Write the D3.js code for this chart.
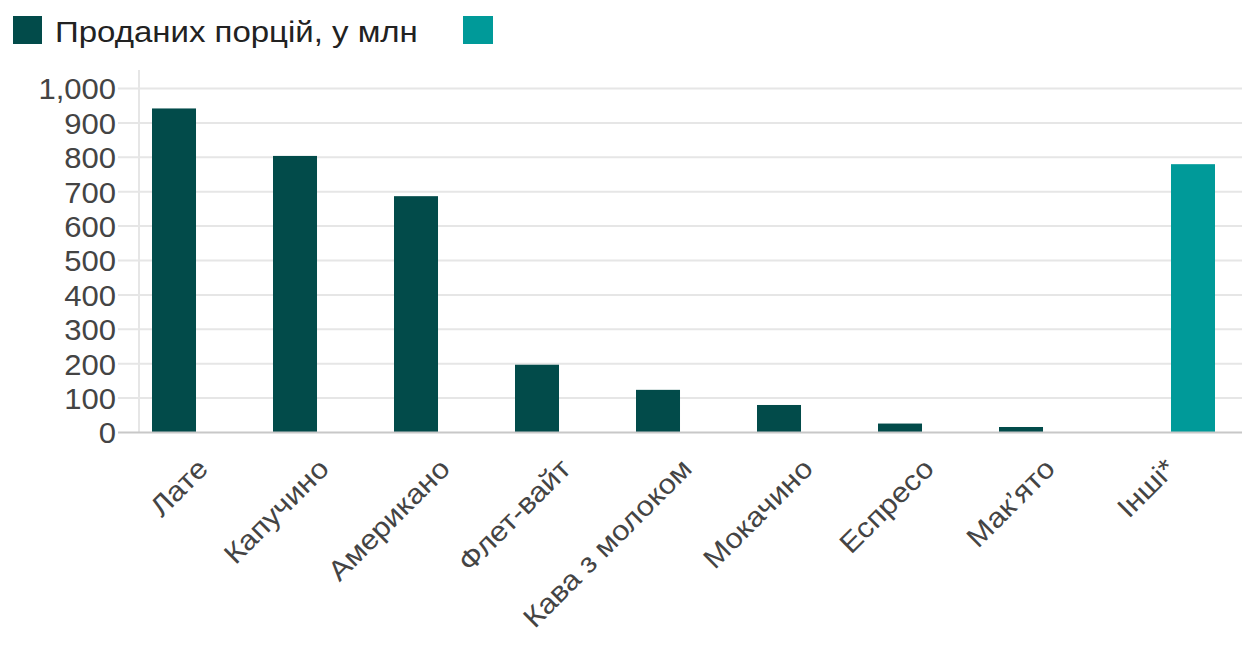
<!DOCTYPE html>
<html><head><meta charset="utf-8">
<script src="https://cdn.jsdelivr.net/npm/d3@7"></script>
<style>body{margin:0;background:#fff}svg{display:block}</style>
</head><body>
<svg id="c" width="1242" height="650"></svg>
<script>
const categories = ["Лате","Капучино","Американо","Флет-вайт","Кава з молоком","Мокачино","Еспресо","Мак\u2019ято","Інші*"];
const seriesNames = ["Проданих порцій, у млн", ""];
const soldValues = [942, 804, 687, 197, 124, 80, 26, 16, 0];
const otherValues = [0, 0, 0, 0, 0, 0, 0, 0, 780];
const yTicks = [0,100,200,300,400,500,600,700,800,900,1000];
const colors = ["#024b4a", "#009a99"];

const svg = d3.select("#c");
const font = "'Liberation Sans', Arial, sans-serif";
const plotLeft = 139, plotRight = 1228, plotTop = 88.5, plotBottom = 432.5;

const x0 = d3.scaleBand().domain(categories).range([plotLeft, plotRight]).padding(0);
const x1 = d3.scaleBand().domain([0,1]).range([0, x0.bandwidth()]).paddingInner(0.137).paddingOuter(0.255);
const y = d3.scaleLinear().domain([0,1000]).range([plotBottom, plotTop]);

// gridlines
svg.append("g").selectAll("line").data(yTicks.filter(d=>d>0)).join("line")
  .attr("x1", 118).attr("x2", 1242)
  .attr("y1", d=>y(d)).attr("y2", d=>y(d))
  .attr("stroke", "#e6e6e6").attr("stroke-width", 2);
// vertical axis line
svg.append("line").attr("x1", plotLeft).attr("x2", plotLeft).attr("y1", 70).attr("y2", plotBottom)
  .attr("stroke", "#e6e6e6").attr("stroke-width", 2);

// y labels
const yAxis = d3.axisLeft(y).tickValues(yTicks).tickFormat(d3.format(",")).tickSize(0).tickPadding(0);
const ya = svg.append("g").attr("transform", "translate(116,0)").call(yAxis);
ya.select(".domain").remove();
ya.selectAll("text").attr("font-family", font).attr("font-size", 29).attr("fill", "#444")
  .attr("dy", "0.36em").attr("transform", "scale(1.07,1)");

// bars
const data = categories.map((c,i)=>({c, v:[soldValues[i], otherValues[i]]}));
const g = svg.append("g");
data.forEach(d=>{
  d.v.forEach((v,k)=>{
    if (v <= 0) return;
    g.append("rect")
      .attr("x", x0(d.c) + x1(k)).attr("width", x1.bandwidth())
      .attr("y", y(v)).attr("height", y(0) - y(v))
      .attr("fill", colors[k]);
  });
});

// baseline
svg.append("line").attr("x1", 118).attr("x2", 1242).attr("y1", y(0)).attr("y2", y(0))
  .attr("stroke", "#c8c8c8").attr("stroke-width", 2);

// x labels
const xAxis = d3.axisBottom(x0).tickSize(0).tickPadding(0);
const xa = svg.append("g").attr("transform", `translate(0,${plotBottom})`).call(xAxis);
xa.select(".domain").remove();
xa.selectAll("text")
  .attr("font-family", font).attr("font-size", 28).attr("fill", "#444")
  .attr("text-anchor", "end").attr("dy", null).attr("y", 0)
  .attr("transform", "translate(10,38) rotate(-45) scale(1.1,1)");

// legend
const lg = svg.append("g");
lg.append("rect").attr("x", 13).attr("y", 16).attr("width", 29).attr("height", 28).attr("fill", colors[0]);
lg.append("text").attr("transform", "translate(55,42) scale(1.1,1)")
  .attr("font-family", font).attr("font-size", 30).attr("fill", "#222").text(seriesNames[0]);
lg.append("rect").attr("x", 463).attr("y", 16).attr("width", 30).attr("height", 28).attr("fill", colors[1]);
</script>
</body></html>
